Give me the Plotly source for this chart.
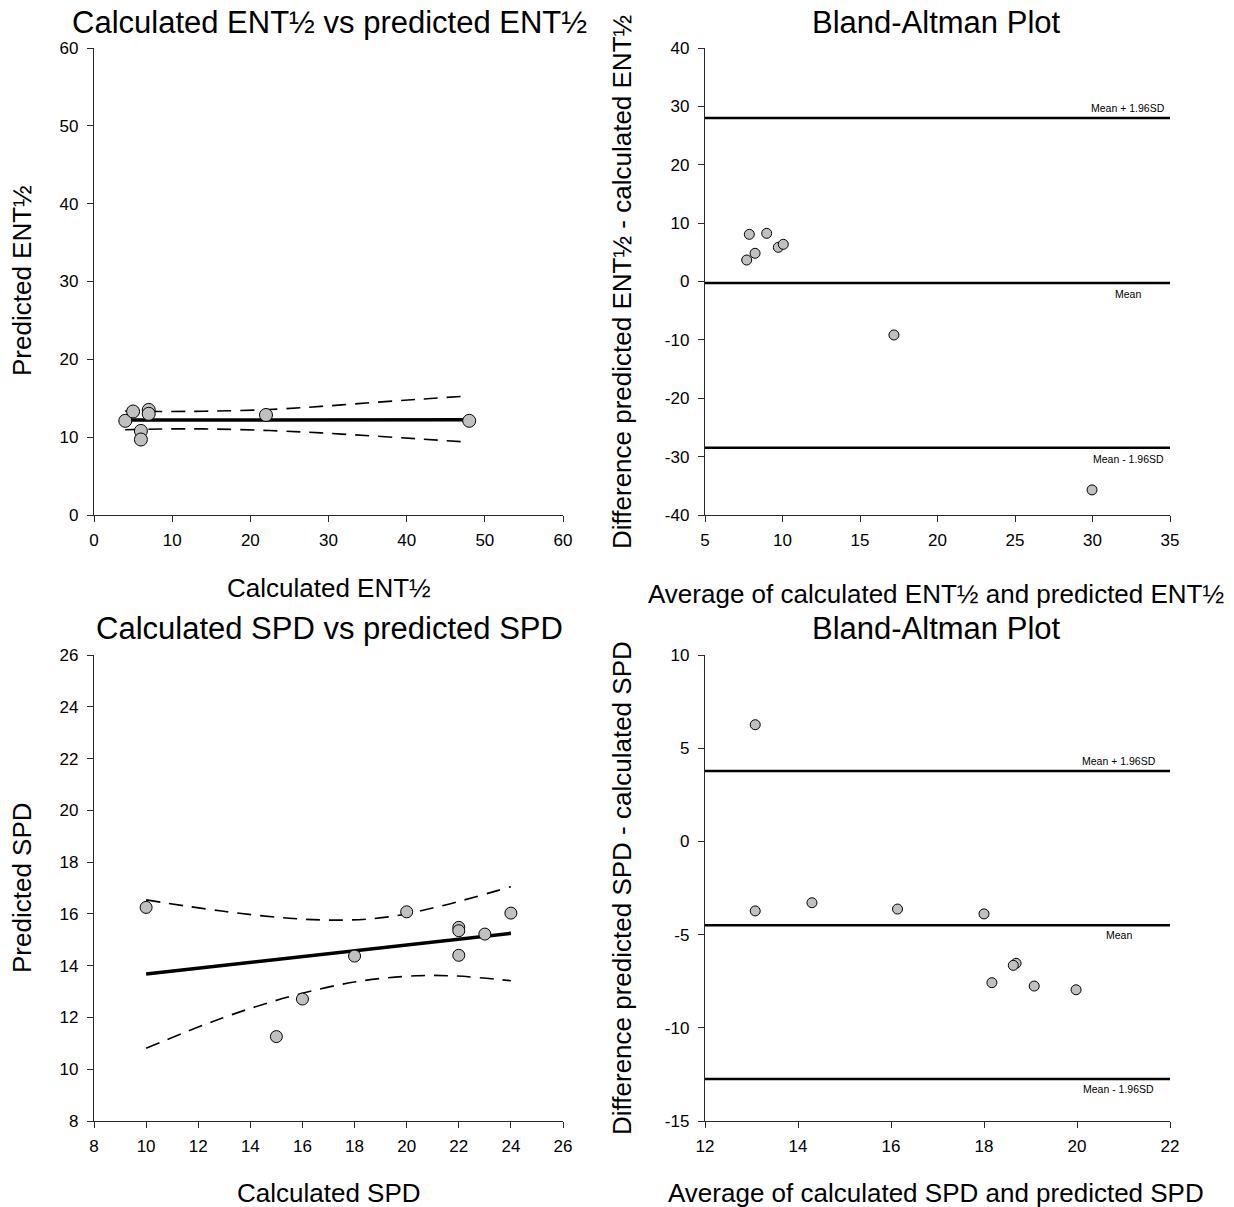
import plotly.graph_objects as go

W, H = 1234, 1207

# ---------------- Data ----------------
# Panel A: calculated vs predicted ENT1/2
ent_calc = [4, 5, 6, 6, 7, 7, 22, 48]
ent_pred = [12.1, 13.3, 10.8, 9.7, 13.5, 13.0, 12.85, 12.1]
ent_fit_x = [4, 48]
ent_fit_y = [12.2, 12.25]
ent_ci_x = [4, 8.5, 15, 22.4, 29, 35.7, 42, 48]
ent_ci_up = [13.35, 13.3, 13.35, 13.55, 13.95, 14.45, 14.9, 15.3]
ent_ci_lo = [10.95, 11.05, 11.05, 10.85, 10.55, 10.15, 9.75, 9.35]

# Panel B: Bland-Altman ENT1/2
ent_ba_avg = [7.86, 8.98, 8.23, 7.69, 9.73, 10.05, 17.19, 29.97]
ent_ba_diff = [8.08, 8.25, 4.83, 3.68, 5.86, 6.37, -9.16, -35.7]
ent_ba_mean = -0.25
ent_ba_up = 28.0
ent_ba_lo = -28.5

# Panel C: calculated vs predicted SPD
spd_calc = [10, 15, 16, 18, 20, 22, 22, 22, 23, 24]
spd_pred = [16.25, 11.26, 12.71, 14.37, 16.08, 15.48, 15.35, 14.40, 15.22, 16.03]
spd_fit_x = [10, 24]
spd_fit_y = [13.68, 15.25]
spd_ci_x = [10, 12.9, 15.5, 17.55, 19.35, 21.3, 24]
spd_ci_up = [16.54, 16.11, 15.83, 15.76, 15.89, 16.30, 17.05]
spd_ci_lo_x = [10, 12.9, 15.5, 18.06, 20.37, 21.9, 24]
spd_ci_lo = [10.81, 11.97, 12.80, 13.38, 13.61, 13.60, 13.42]

# Panel D: Bland-Altman SPD
spd_ba_avg = [13.08, 13.08, 14.30, 16.14, 18.0, 18.69, 18.63, 18.17, 19.08, 19.98]
spd_ba_diff = [6.26, -3.73, -3.29, -3.63, -3.89, -6.54, -6.65, -7.58, -7.76, -7.96]
spd_ba_mean = -4.50
spd_ba_up = 3.78
spd_ba_lo = -12.75

# Tick values (labels use plain hyphen minus like the original)
ticks_y2 = [-40, -30, -20, -10, 0, 10, 20, 30, 40]
ticks_y4 = [-15, -10, -5, 0, 5, 10]

FONT = "Liberation Sans, Arial, sans-serif"
GRAY = "rgb(192,192,192)"
AXC = "#2a2a2a"

fig = go.Figure()


def px2x(px):
    return px / W


def py2y(py):
    return 1 - py / H


# domains
dxL = [px2x(94), px2x(563)]
dxR = [px2x(705), px2x(1170)]
dyT = [py2y(515), py2y(48)]
dyB = [py2y(1121), py2y(655)]

axis_common = dict(showgrid=False, zeroline=False, showline=True, linecolor=AXC,
                   linewidth=1.4, ticks="outside", ticklen=6, tickwidth=1.3, tickcolor=AXC,
                   tickfont=dict(family=FONT, size=17, color="black"), mirror=False,
                   automargin=False)


def labs(vals):
    return [str(v).replace("\u2212", "-") for v in vals]


fig.update_layout(
    xaxis=dict(domain=dxL, anchor="y", range=[0, 60], dtick=10, ticklabelstandoff=3, **axis_common),
    yaxis=dict(domain=dyT, anchor="x", range=[0, 60], dtick=10, ticklabelstandoff=5, **axis_common),
    xaxis2=dict(domain=dxR, anchor="y2", range=[5, 35], dtick=5, ticklabelstandoff=3, **axis_common),
    yaxis2=dict(domain=dyT, anchor="x2", range=[-40, 40], tickmode="array", tickvals=ticks_y2,
                ticktext=labs(ticks_y2), ticklabelstandoff=5, **axis_common),
    xaxis3=dict(domain=dxL, anchor="y3", range=[8, 26], dtick=2, ticklabelstandoff=3, **axis_common),
    yaxis3=dict(domain=dyB, anchor="x3", range=[8, 26], dtick=2, ticklabelstandoff=5, **axis_common),
    xaxis4=dict(domain=dxR, anchor="y4", range=[12, 22], dtick=2, ticklabelstandoff=3, **axis_common),
    yaxis4=dict(domain=dyB, anchor="x4", range=[-15, 10], tickmode="array", tickvals=ticks_y4,
                ticktext=labs(ticks_y4), ticklabelstandoff=5, **axis_common),
)


def marker(size):
    return dict(size=size, color=GRAY, line=dict(color="black", width=1))


DASH = dict(color="black", width=1.6, dash="14px,9px", shape="spline")

# Panel A
fig.add_trace(go.Scatter(x=ent_ci_x, y=ent_ci_up, mode="lines", xaxis="x", yaxis="y", line=DASH))
fig.add_trace(go.Scatter(x=ent_ci_x, y=ent_ci_lo, mode="lines", xaxis="x", yaxis="y", line=DASH))
fig.add_trace(go.Scatter(x=ent_fit_x, y=ent_fit_y, mode="lines", xaxis="x", yaxis="y",
                         line=dict(color="black", width=3.5)))
fig.add_trace(go.Scatter(x=ent_calc, y=ent_pred, mode="markers", xaxis="x", yaxis="y",
                         marker=marker(13)))

# Panel B
for yv in [ent_ba_up, ent_ba_mean, ent_ba_lo]:
    fig.add_trace(go.Scatter(x=[5, 35], y=[yv, yv], mode="lines", xaxis="x2", yaxis="y2",
                             line=dict(color="black", width=2.5)))
fig.add_trace(go.Scatter(x=ent_ba_avg, y=ent_ba_diff, mode="markers", xaxis="x2", yaxis="y2",
                         marker=marker(10)))

# Panel C
fig.add_trace(go.Scatter(x=spd_ci_x, y=spd_ci_up, mode="lines", xaxis="x3", yaxis="y3", line=DASH))
fig.add_trace(go.Scatter(x=spd_ci_lo_x, y=spd_ci_lo, mode="lines", xaxis="x3", yaxis="y3", line=DASH))
fig.add_trace(go.Scatter(x=spd_fit_x, y=spd_fit_y, mode="lines", xaxis="x3", yaxis="y3",
                         line=dict(color="black", width=3.5)))
fig.add_trace(go.Scatter(x=spd_calc, y=spd_pred, mode="markers", xaxis="x3", yaxis="y3",
                         marker=marker(12)))

# Panel D
for yv in [spd_ba_up, spd_ba_mean, spd_ba_lo]:
    fig.add_trace(go.Scatter(x=[12, 22], y=[yv, yv], mode="lines", xaxis="x4", yaxis="y4",
                             line=dict(color="black", width=2.5)))
fig.add_trace(go.Scatter(x=spd_ba_avg, y=spd_ba_diff, mode="markers", xaxis="x4", yaxis="y4",
                         marker=marker(10)))

annotations = []


def text(s, px, py, size, angle=0):
    annotations.append(dict(text=s, x=px2x(px), y=py2y(py), xref="paper", yref="paper",
                            showarrow=False, textangle=angle, xanchor="center", yanchor="middle",
                            font=dict(family=FONT, size=size, color="black")))


# Titles
text("Calculated ENT½ vs predicted ENT½", 329, 22, 31)
text("Bland-Altman Plot", 936, 22, 31)
text("Calculated SPD vs predicted SPD", 329, 628, 31)
text("Bland-Altman Plot", 936, 628, 31)

# Axis titles
text("Calculated ENT½", 329, 588, 26)
text("Predicted ENT½", 22, 281, 26, -90)
text("Average of calculated ENT½ and predicted ENT½", 936, 594, 26)
text("Difference predicted ENT½ - calculated ENT½", 622, 282, 26, -90)
text("Calculated SPD", 329, 1193, 26)
text("Predicted SPD", 22, 888, 26, -90)
text("Average of calculated SPD and predicted SPD", 936, 1193, 26)
text("Difference predicted SPD - calculated SPD", 622, 888, 26, -90)


# Limit labels
def lim_label(s, xval, yval, xa, ya, shift):
    annotations.append(dict(text=s, x=xval, y=yval, xref=xa, yref=ya, showarrow=False,
                            xanchor="center", yanchor="middle", yshift=shift,
                            font=dict(family=FONT, size=10.5, color="black")))


lim_label("Mean + 1.96SD", 32.3, ent_ba_up, "x2", "y2", 10)
lim_label("Mean", 32.3, ent_ba_mean, "x2", "y2", -11)
lim_label("Mean - 1.96SD", 32.3, ent_ba_lo, "x2", "y2", -11)
lim_label("Mean + 1.96SD", 20.9, spd_ba_up, "x4", "y4", 10)
lim_label("Mean", 20.9, spd_ba_mean, "x4", "y4", -10)
lim_label("Mean - 1.96SD", 20.9, spd_ba_lo, "x4", "y4", -10)

fig.update_layout(annotations=annotations, width=W, height=H, showlegend=False,
                  margin=dict(l=0, r=0, t=0, b=0, pad=0), paper_bgcolor="white", plot_bgcolor="white")

fig.write_html("out.html", config={"displayModeBar": False},
               post_script="document.body.style.margin='0px';document.body.style.overflow='hidden';")
